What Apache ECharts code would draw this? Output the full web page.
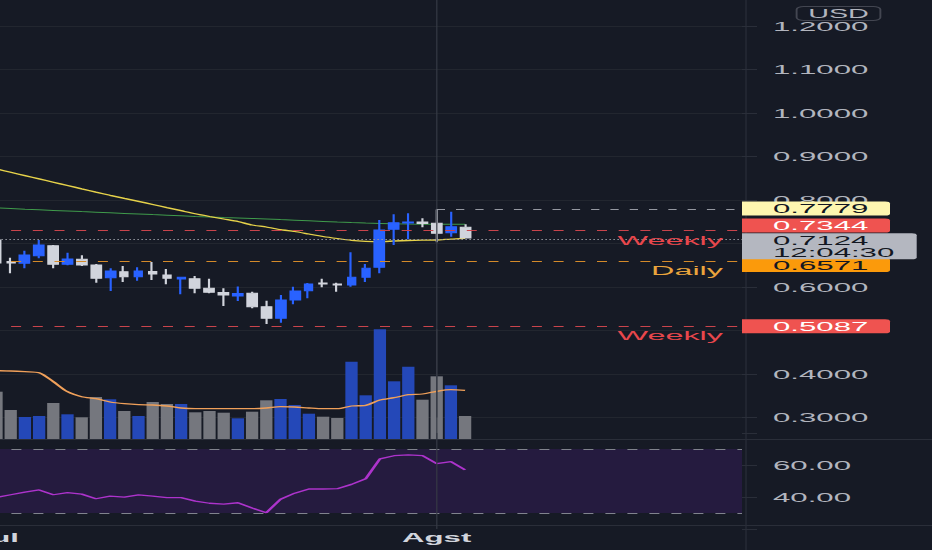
<!DOCTYPE html>
<html>
<head>
<meta charset="utf-8">
<title>Chart</title>
<script src="https://cdn.jsdelivr.net/npm/echarts@6/dist/echarts.min.js"></script>
<style>
  html, body { margin:0; padding:0; width:932px; height:550px; overflow:hidden; background:#161a25; }
  #stage { position:relative; width:932px; height:550px; overflow:hidden; background:#161a25; }
  #chart { position:absolute; left:-20px; top:-20px; width:397px; height:570px; transform:scaleX(2.397985); transform-origin:0 0; }
</style>
</head>
<body>
<div id="stage"><div id="chart"></div></div>
<script>
// ---------------- data ----------------
const opens  = [0.7080,0.6586,0.6545,0.6719,0.6949,0.6522,0.6637,0.6506,0.6214,0.6352,0.6237,0.6356,0.6276,0.6184,0.6191,0.5970,0.5874,0.5793,0.5855,0.5547,0.5281,0.5701,0.5915,0.6092,0.6069,0.6046,0.6223,0.6453,0.7326,0.7471,0.7494,0.7464,0.7248,0.7372];
const highs  = [0.7126,0.6674,0.6834,0.7080,0.6966,0.6789,0.6729,0.6529,0.6430,0.6483,0.6453,0.6575,0.6414,0.6237,0.6253,0.6191,0.5970,0.6012,0.5892,0.5685,0.5816,0.6007,0.6092,0.6191,0.6099,0.6798,0.6529,0.7540,0.7671,0.7694,0.7579,0.7779,0.7731,0.7441];
const lows   = [0.6483,0.6315,0.6430,0.6660,0.6430,0.6499,0.6483,0.6099,0.5908,0.6115,0.6145,0.6161,0.6062,0.5832,0.5855,0.5855,0.5563,0.5678,0.5510,0.5149,0.5179,0.5602,0.5740,0.5993,0.5892,0.6007,0.6115,0.6315,0.6966,0.7097,0.7372,0.7028,0.7156,0.7120];
const closes = [0.6552,0.6552,0.6736,0.6966,0.6522,0.6644,0.6506,0.6200,0.6368,0.6237,0.6368,0.6299,0.6200,0.6223,0.5970,0.5878,0.5816,0.5851,0.5547,0.5281,0.5701,0.5908,0.6069,0.6069,0.6046,0.6223,0.6430,0.7310,0.7478,0.7494,0.7460,0.7235,0.7386,0.7124];
const volumes = [473,290,220,230,360,247,217,420,397,280,230,370,350,350,267,280,263,207,273,387,400,340,253,223,210,773,437,1097,577,723,393,627,537,230];
const volumeMA = [683,680,673,663,573,473,423,403,370,353,343,340,330,310,303,303,303,303,303,310,323,320,310,303,303,330,337,390,413,443,450,477,493,487];
const maYellow = [0.8713,0.8637,0.8561,0.8485,0.8409,0.8333,0.8257,0.8182,0.8108,0.8037,0.7968,0.7897,0.7825,0.7754,0.7683,0.7621,0.7563,0.7506,0.7425,0.7379,0.7317,0.7276,0.7218,0.7161,0.7115,0.7074,0.7051,0.7041,0.7057,0.7069,0.7076,0.7080,0.7103,0.7120];
const maGreen = [0.7816,0.7805,0.7788,0.7775,0.7761,0.7747,0.7733,0.7720,0.7706,0.7692,0.7678,0.7664,0.7651,0.7637,0.7623,0.7612,0.7600,0.7589,0.7577,0.7563,0.7549,0.7536,0.7522,0.7508,0.7494,0.7481,0.7471,0.7462,0.7453,0.7448,0.7444,0.7441,0.7441,0.7441];
const rsi = [39.7,41.4,43.1,44.4,41.4,42.7,41.8,38.9,40.5,39.9,41.3,40.6,39.6,39.6,37.4,36.1,35.6,36.4,33.1,30.2,38.6,42.4,45.0,45.0,45.2,47.9,51.4,63.8,65.8,66.3,65.9,60.9,62.1,56.9];

const highLevel = 0.7779;
const weeklyLevels = [0.7344, 0.5087];
const dailyLevels = [0.6571];
const lastPrice = 0.7124;
const countdown = '12:04:30';
const levelNames = { weekly: 'Weekly', daily: 'Daily' };
const currency = 'USD';
const priceTicksShown = [0.3, 0.4, 0.6, 0.8, 0.9, 1.0, 1.1, 1.2];
const rsiTicksShown = [40, 60];
const rsiBand = [70, 30];
const monthTickIndex = [0, 31];
const monthTickLabels = ['Jul', 'Agst'];

// categories: days of July, then August (future slots stay empty)
const categories = [];
for (let d = 1; d <= 31; d++) categories.push(d + ' Jul');
for (let d = 1; d <= 22; d++) categories.push(d + ' Agst');

// ---------------- layout helpers ----------------
// The chart is drawn 397 units wide and stretched horizontally to fill the page,
// shifted 20px left/up so that all grid margins stay positive.
const OX = 20, OY = 20;
const S = 952 / 397;
const u  = v => v / S;            // horizontal length (screen px -> units)
const ux = sx => (sx + OX) / S;   // horizontal position
const uy = sy => sy + OY;         // vertical position
const FONT = "'Liberation Sans', Arial, sans-serif";
const UP = '#2962ff', DOWN = '#d1d4dc';
const VOL_UP = '#2448b8', VOL_DOWN = '#75777e';
const GRID_L = ux(-10.6), GRID_R = 397 - ux(742);
const AXIS_TXT = '#b2b5be';
const VLINE = { color: '#363a45', width: u(1.2), type: 'solid' };

const candleData = opens.map((o, i) => [o, closes[i], lows[i], highs[i]]);

const BOX_W = u(148) - 2 - u(31);
const priceBox = (txt, bg, fg, dy, w) => ({
  show: true, position: 'end', distance: 0, formatter: txt,
  color: fg, backgroundColor: bg, fontFamily: FONT, fontSize: 13, lineHeight: 13,
  padding: [0.5, 2, 0.5, u(31)], width: w, offset: [0, dy], borderRadius: [0, 2, 2, 0]
});
const levelTag = (txt, color) => ({
  show: true, position: 'insideEndBottom', distance: [u(19), 2.5], formatter: txt,
  color: color, fontFamily: FONT, fontSize: 13.5
});
const noLine = { width: 0, color: 'rgba(0,0,0,0)' };
const RED = '#e8474c', RED_LINE = '#c9444c', ORANGE = '#eaa43c', ORANGE_LINE = '#d48a2a';
const dashRed = [u(10), u(11.7)];

const priceMarks = [
  { xAxis: categories[monthTickIndex[1]], lineStyle: VLINE, label: { show: false } },
  [
    { xAxis: categories[31], yAxis: highLevel, lineStyle: { color: '#9598a1', width: 1, type: [u(8.3), u(11)] },
      label: priceBox(highLevel.toFixed(4), '#fef6b0', '#131722', -1, BOX_W) },
    { x: ux(742), yAxis: highLevel }
  ],
  { yAxis: weeklyLevels[0], lineStyle: { color: RED_LINE, width: 1, type: dashRed },
    label: priceBox(weeklyLevels[0].toFixed(4), '#ef5350', '#ffffff', -5, BOX_W) },
  { yAxis: weeklyLevels[0], lineStyle: noLine, label: levelTag(levelNames.weekly, RED) },
  { yAxis: dailyLevels[0], lineStyle: { color: ORANGE_LINE, width: 1, type: dashRed },
    label: priceBox(dailyLevels[0].toFixed(4), '#fb9a0b', '#131722', 4, BOX_W) },
  { yAxis: dailyLevels[0], lineStyle: noLine, label: levelTag(levelNames.daily, ORANGE) },
  { yAxis: weeklyLevels[1], lineStyle: { color: RED_LINE, width: 1, type: dashRed },
    label: priceBox(weeklyLevels[1].toFixed(4), '#ef5350', '#ffffff', 0, BOX_W) },
  { yAxis: weeklyLevels[1], lineStyle: noLine, label: levelTag(levelNames.weekly, RED) },
  { yAxis: lastPrice, lineStyle: { color: '#9598a1', width: 1, type: [u(1.5), u(2.5)] },
    label: Object.assign(priceBox(lastPrice.toFixed(4) + '\n' + countdown, '#b4b7c0', '#131722', 7, u(174.7) - 2 - u(31)), { lineHeight: 12, padding: [1, 2, 1, u(31)] }) }
];

const chart = echarts.init(document.getElementById('chart'), null, { renderer: 'svg' });

const gridBase = { left: GRID_L, right: GRID_R, containLabel: false, outerBoundsMode: 'none' };
const option = {
  backgroundColor: '#161a25',
  animation: false,
  textStyle: { fontFamily: FONT },
  grid: [
    Object.assign({ top: uy(-17.5), height: 435 }, gridBase),
    Object.assign({ top: uy(329), height: 110 }, gridBase),
    Object.assign({ top: uy(433), height: 96 }, gridBase)
  ],
  xAxis: [0, 1, 2].map(i => ({
    type: 'category', gridIndex: i, data: categories, boundaryGap: true,
    axisLine: { show: false }, axisTick: { show: false }, splitLine: { show: false },
    axisLabel: i === 2 ? {
      show: true, margin: 2, color: '#d1d4dc', fontWeight: 'bold', fontSize: 13, fontFamily: FONT,
      hideOverlap: false,
      interval: (idx) => monthTickIndex.indexOf(idx) >= 0,
      formatter: (v, idx) => { const k = monthTickIndex.indexOf(idx); return k >= 0 ? monthTickLabels[k] : ''; }
    } : { show: false }
  })),
  yAxis: [
    { type: 'value', gridIndex: 0, position: 'right', min: 0.3, max: 1.3, interval: 0.1,
      axisLine: { show: false },
      axisTick: { show: true, length: u(15), lineStyle: { color: '#2a2e39' } },
      splitLine: { show: true, lineStyle: { color: '#22262f', width: 1 } },
      axisLabel: { margin: u(31), color: AXIS_TXT, fontSize: 13, fontFamily: FONT,
        customValues: priceTicksShown, formatter: v => Number(v).toFixed(4) } },
    { type: 'value', gridIndex: 1, min: 0, max: 1100, show: false, splitLine: { show: false } },
    { type: 'value', gridIndex: 2, position: 'right', min: 20, max: 80, interval: 20,
      axisLine: { show: false },
      axisTick: { show: true, length: u(15), lineStyle: { color: '#2a2e39' } },
      splitLine: { show: false },
      axisLabel: { margin: u(31), color: AXIS_TXT, fontSize: 13, fontFamily: FONT,
        customValues: rsiTicksShown, formatter: v => Number(v).toFixed(2) } }
  ],
  graphic: [
    { type: 'line', z: 0, silent: true, shape: { x1: 0, y1: uy(439.5), x2: 397, y2: uy(439.5) }, style: { stroke: '#2a2e39', lineWidth: 1 } },
    { type: 'line', z: 0, silent: true, shape: { x1: 0, y1: uy(525.5), x2: 397, y2: uy(525.5) }, style: { stroke: '#2a2e39', lineWidth: 1 } },
    { type: 'line', z: 0, silent: true, shape: { x1: ux(746), y1: 0, x2: ux(746), y2: 570 }, style: { stroke: '#2a2e39', lineWidth: u(1.2) } },
    { type: 'text', z: 10, silent: true, x: ux(838.5), y: uy(13.5),
      style: { text: currency, fill: AXIS_TXT, font: '12px ' + FONT, align: 'center', verticalAlign: 'middle',
               padding: [1, u(11.5), 1, u(11.5)], borderColor: '#434651', borderWidth: 0.8, borderRadius: 3 } }
  ],
  series: [
    { name: 'MA slow', type: 'line', xAxisIndex: 0, yAxisIndex: 0, data: maGreen, showSymbol: false,
      lineStyle: { color: '#3f9a4b', width: 1 }, z: 1, silent: true },
    { name: 'MA fast', type: 'line', xAxisIndex: 0, yAxisIndex: 0, data: maYellow, showSymbol: false, smooth: 0.2,
      lineStyle: { color: '#e6d24a', width: 1.3 }, z: 1, silent: true },
    { name: 'Price', type: 'candlestick', xAxisIndex: 0, yAxisIndex: 0, data: candleData,
      barWidth: u(12) - 0.9,
      itemStyle: { color: UP, color0: DOWN, borderColor: UP, borderColor0: DOWN, borderWidth: 0.9 },
      markLine: { silent: true, symbol: ['none', 'none'], animation: false, label: { show: false }, data: priceMarks }
    },
    { name: 'Volume', type: 'bar', xAxisIndex: 1, yAxisIndex: 1, data: volumes, barWidth: u(12.3),
      itemStyle: { color: p => closes[p.dataIndex] >= opens[p.dataIndex] ? VOL_UP : VOL_DOWN },
      markLine: { silent: true, symbol: ['none', 'none'], label: { show: false },
        data: [{ xAxis: categories[monthTickIndex[1]], lineStyle: VLINE }] } },
    { name: 'Volume MA', type: 'line', xAxisIndex: 1, yAxisIndex: 1, data: volumeMA, showSymbol: false, smooth: 0.3,
      lineStyle: { color: '#f0a05a', width: 1.3 }, z: 3, silent: true },
    { name: 'RSI', type: 'line', xAxisIndex: 2, yAxisIndex: 2, data: rsi, showSymbol: false,
      lineStyle: { color: '#ad33cc', width: 1.3 }, z: 3, silent: true,
      markArea: { silent: true, itemStyle: { color: '#251b3f' }, data: [[{ yAxis: rsiBand[0] }, { yAxis: rsiBand[1] }]] },
      markLine: { silent: true, symbol: ['none', 'none'], label: { show: false },
        data: [
          { yAxis: rsiBand[0], lineStyle: { color: '#80838d', width: 1, type: [u(10), u(12)] } },
          { yAxis: rsiBand[1], lineStyle: { color: '#80838d', width: 1, type: [u(10), u(12)] } },
          { xAxis: categories[monthTickIndex[1]], lineStyle: VLINE }
        ] } }
  ]
};
chart.setOption(option);
</script>
</body>
</html>
